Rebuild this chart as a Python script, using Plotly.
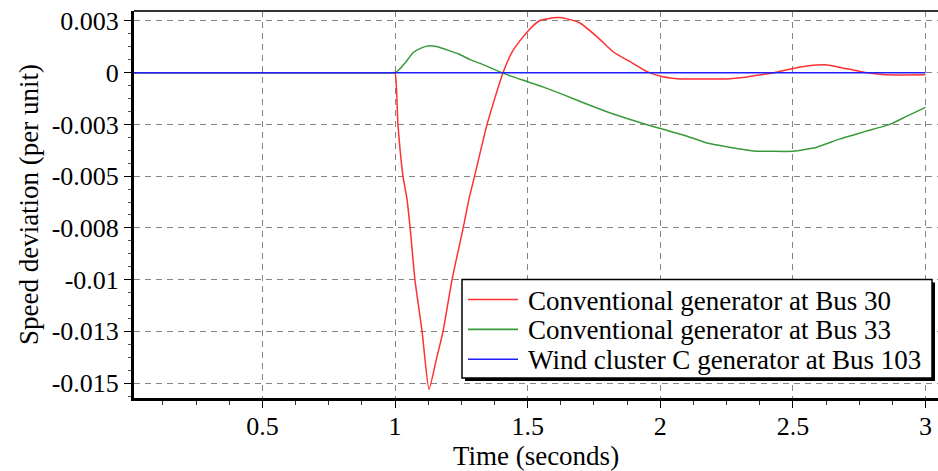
import plotly.graph_objects as go

# ---- data ----
t_bus30 = [0, 0.5, 0.9, 0.99, 1.0, 1.011, 1.030, 1.045, 1.057, 1.075, 1.102, 1.128, 1.155,
           1.181, 1.215, 1.257, 1.279, 1.30, 1.347, 1.407, 1.446, 1.498, 1.546, 1.61, 1.65,
           1.697, 1.762, 1.823, 1.886, 1.95, 2.01, 2.074, 2.15, 2.25, 2.32, 2.38, 2.43, 2.5,
           2.56, 2.62, 2.7, 2.78, 2.85, 3.0]
v_bus30 = [0, 0, 0, 0, 0, -0.0025, -0.005, -0.0061, -0.0075, -0.01, -0.0125, -0.0153, -0.0139,
           -0.0125, -0.01, -0.0075, -0.0061, -0.005, -0.0025, 0, 0.0011, 0.00197, 0.00252,
           0.00266, 0.0026, 0.0024, 0.00173, 0.001, 0.00053, 0.00005, -0.0002, -0.0003,
           -0.00031, -0.0003, -0.00022, -0.0001, 0, 0.0002, 0.00033, 0.00038, 0.0002, 0.0,
           -0.0001, -0.0001]

t_bus33 = [0, 0.5, 0.9, 0.99, 1.0, 1.015, 1.04, 1.068, 1.10, 1.13, 1.16, 1.196, 1.24, 1.283,
           1.33, 1.384, 1.44, 1.498, 1.56, 1.634, 1.72, 1.823, 1.92, 2.0, 2.09, 2.176, 2.26,
           2.35, 2.42, 2.5, 2.59, 2.677, 2.77, 2.865, 2.93, 3.0]
v_bus33 = [0, 0, 0, 0, 0, 0.00014, 0.0005, 0.00096, 0.0012, 0.0013, 0.00125, 0.0011, 0.0009,
           0.00063, 0.0004, 0.0001, -0.00018, -0.00043, -0.0007, -0.00106, -0.0015, -0.002,
           -0.0024, -0.0027, -0.00302, -0.0034, -0.0036, -0.00378, -0.0038, -0.0038,
           -0.0036, -0.0032, -0.00285, -0.0025, -0.0021, -0.00168]

t_bus103 = [0, 3.0]
v_bus103 = [0, 0]

names = ["Conventional generator at Bus 30",
         "Conventional generator at Bus 33",
         "Wind cluster C generator at Bus 103"]
colors = ["#ff3030", "#3a9a3a", "#2020ff"]

y_tickvals = [0.0025, 0, -0.0025, -0.005, -0.0075, -0.01, -0.0125, -0.015]
y_ticktext = ["0.003", "0", "-0.003", "-0.005", "-0.008", "-0.01", "-0.013", "-0.015"]
x_tickvals = [0.5, 1, 1.5, 2, 2.5, 3]
x_ticktext = ["0.5", "1", "1.5", "2", "2.5", "3"]

FONT = "Liberation Serif, Times New Roman, serif"
X_RANGE = [0.016, 3.047]

# plot-area geometry in pixels (used only to place the hand-drawn legend box)
L, R, T, B = 134, 938, 11, 400


def px(xp):
    return (xp - L) / (R - L)


def py(yp):
    return (B - yp) / (B - T)


fig = go.Figure()
for t, v, n, c, xa in zip([t_bus30, t_bus33, t_bus103], [v_bus30, v_bus33, v_bus103],
                          names, colors, ["x", "x", "x2"]):
    fig.add_trace(go.Scatter(x=t, y=v, mode="lines", name=n, showlegend=False, xaxis=xa,
                             line=dict(color=c, width=1.5, shape="spline", smoothing=0.5)))

# legend (box with drop shadow, sample lines, labels)
shapes = [
    dict(type="line", xref="paper", yref="paper", x0=0, x1=1, y0=1, y1=1,
         line=dict(color="#333333", width=2), layer="above"),
    dict(type="rect", xref="paper", yref="paper",
         x0=px(465), x1=px(935), y0=py(383), y1=py(284),
         fillcolor="black", line=dict(width=0), layer="above"),
    dict(type="rect", xref="paper", yref="paper",
         x0=px(462), x1=px(932), y0=py(380), y1=py(281),
         fillcolor="white", line=dict(color="black", width=1.5), layer="above"),
]
annotations = []
row_y = [301, 331, 361]
for ry, n, c in zip(row_y, names, colors):
    shapes.append(dict(type="line", xref="paper", yref="paper",
                       x0=px(468), x1=px(518), y0=py(ry), y1=py(ry),
                       line=dict(color=c, width=1.6), layer="above"))
    annotations.append(dict(text=n, xref="paper", yref="paper", x=px(526), y=py(ry + 1),
                            xanchor="left", yanchor="middle", showarrow=False,
                            font=dict(family=FONT, size=27, color="black")))

GRID = dict(showgrid=True, gridcolor="#858585", griddash="6px,5px", gridwidth=1.3)

fig.update_layout(
    width=938, height=471,
    margin=dict(l=L, r=0, t=T, b=471 - B),
    paper_bgcolor="white", plot_bgcolor="white",
    font=dict(family=FONT, color="black", size=26),
    showlegend=False,
    # main x axis: line, grid, major and minor tick marks
    xaxis=dict(range=X_RANGE, tickvals=x_tickvals, showticklabels=False,
               showline=True, linecolor="black", linewidth=3,
               ticks="outside", ticklen=7, tickwidth=1.2, tickcolor="black",
               zeroline=False,
               minor=dict(tickmode="linear", tick0=0, dtick=0.125, ticks="outside",
                          ticklen=4, tickwidth=1, tickcolor="#333", showgrid=False),
               **GRID),
    # overlaid x axis carrying the tick labels and title
    xaxis2=dict(range=X_RANGE, overlaying="x", anchor="y", side="bottom",
                tickvals=x_tickvals, ticktext=x_ticktext, ticks="", showline=False,
                showgrid=False, zeroline=False, ticklabelstandoff=10,
                title=dict(text="Time (seconds)", font=dict(size=27), standoff=11),
                tickfont=dict(size=26)),
    yaxis=dict(range=[-0.01572, 0.00298], tickvals=y_tickvals, ticktext=y_ticktext,
               showline=True, linecolor="black", linewidth=3,
               ticks="outside", ticklen=7, tickwidth=1.2, tickcolor="black",
               zeroline=False,
               minor=dict(tickmode="linear", tick0=0, dtick=0.000625, ticks="outside",
                          ticklen=3, tickwidth=1, tickcolor="#555", showgrid=False),
               title=dict(text="Speed deviation (per unit)", font=dict(size=27), standoff=6),
               tickfont=dict(size=26), **GRID),
    shapes=shapes,
    annotations=annotations,
)

fig.write_html("out.html")
